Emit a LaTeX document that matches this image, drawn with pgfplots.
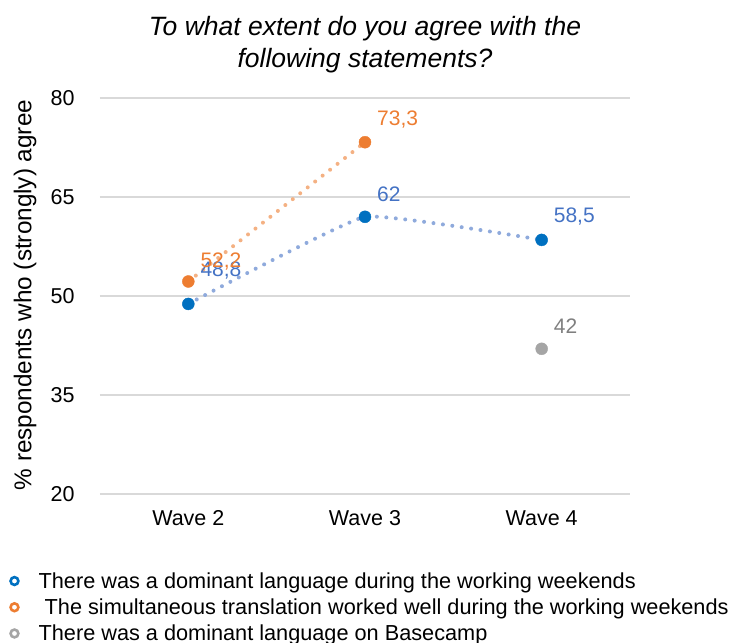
\documentclass[border=0pt]{standalone}
\usepackage{pgfplots}
\pgfplotsset{compat=1.18}
\usepackage{pgfplotstable}
\usepackage{fontspec}
\setmainfont{Liberation Sans}
\definecolor{bmark}{RGB}{0,112,192}
\definecolor{bline}{RGB}{143,170,220}
\definecolor{blab}{RGB}{68,114,196}
\definecolor{omark}{RGB}{237,125,49}
\definecolor{oline}{RGB}{244,177,131}
\definecolor{gmark}{RGB}{165,165,165}
\definecolor{glab}{RGB}{127,127,127}
\definecolor{gridgray}{RGB}{217,217,217}
\pgfplotstableread{
x y lab dy
0 48.8 48,8 33
1 62 62 23
2 58.5 58,5 23
}\blueT
\pgfplotstableread{
x y lab dy
0 52.2 52,2 20
1 73.3 73,3 23
}\orangeT
\pgfplotstableread{
x y lab dy
2 42 42 23
}\grayT
\begin{document}
\begin{tikzpicture}
\useasboundingbox (-100bp,-149bp) rectangle (631bp,494bp);
\begin{axis}[
  at={(0,0)}, anchor=south west,
  scale only axis, width=530bp, height=396bp,
  xmin=-0.5, xmax=2.5, ymin=20, ymax=80,
  ytick={20,35,50,65,80},
  xtick={0,1,2}, xticklabels={Wave 2,Wave 3,Wave 4},
  axis line style={draw=none},
  major tick length=0pt,
  ymajorgrids, grid style={gridgray, line width=1.5bp},
  clip=false,
  /pgf/number format/assume math mode=true,
  ticklabel style={font=\fontsize{21.5bp}{24bp}\selectfont},
  yticklabel style={xshift=-22bp},
  xticklabel style={yshift=-13bp},
  title={To what extent do you agree with the\\following statements?},
  title style={font=\fontsize{26.5bp}{32bp}\selectfont\itshape, align=center, at={(axis description cs:0.5,1.12)}, anchor=center},
  ylabel={\% respondents who (strongly) agree},
  ylabel style={font=\fontsize{24.3bp}{26bp}\selectfont, at={(axis description cs:-0.1415,0.5025)}, anchor=center},
  legend style={at={(axis description cs:-0.181,-0.195)}, anchor=north west, draw=none, fill=none,
    font=\fontsize{21.7bp}{24bp}\selectfont, row sep=7bp, inner sep=0pt, nodes={inner sep=1bp}},
  legend cell align=left,
]
\addlegendimage{legend image code/.code={\path (0bp,0bp) (33bp,0bp); \draw[bmark, line width=2.6bp] (10bp,0bp) circle (3.9bp);}}
\addlegendentry{There was a dominant language during the working weekends}
\addlegendimage{legend image code/.code={\path (0bp,0bp) (33bp,0bp); \draw[omark, line width=2.6bp] (10bp,0bp) circle (3.9bp);}}
\addlegendentry{\ The simultaneous translation worked well during the working weekends}
\addlegendimage{legend image code/.code={\path (0bp,0bp) (33bp,0bp); \draw[gmark, line width=2.6bp] (10bp,0bp) circle (3.9bp);}}
\addlegendentry{There was a dominant language on Basecamp}
% lines
\addplot[forget plot, bline, line width=4bp, line cap=round, dash pattern=on 0pt off 9.5bp, smooth, tension=0.2] table[x=x,y=y] {\blueT};
\addplot[forget plot, oline, line width=4bp, line cap=round, dash pattern=on 0pt off 9.5bp] table[x=x,y=y] {\orangeT};
% markers + labels
\addplot[forget plot, only marks, mark=*, mark size=6bp, bmark,
  point meta=explicit symbolic, nodes near coords,
  visualization depends on={\thisrow{dy} \as \dy},
  nodes near coords style={blab, anchor=west, inner sep=0pt, xshift=12bp, yshift=\dy bp, font=\fontsize{21bp}{24bp}\selectfont}]
  table[x=x,y=y,meta=lab] {\blueT};
\addplot[forget plot, only marks, mark=*, mark size=6bp, omark,
  point meta=explicit symbolic, nodes near coords,
  visualization depends on={\thisrow{dy} \as \dy},
  nodes near coords style={omark, anchor=west, inner sep=0pt, xshift=12bp, yshift=\dy bp, font=\fontsize{21bp}{24bp}\selectfont}]
  table[x=x,y=y,meta=lab] {\orangeT};
\addplot[forget plot, only marks, mark=*, mark size=6bp, gmark,
  point meta=explicit symbolic, nodes near coords,
  visualization depends on={\thisrow{dy} \as \dy},
  nodes near coords style={glab, anchor=west, inner sep=0pt, xshift=12bp, yshift=\dy bp, font=\fontsize{21bp}{24bp}\selectfont}]
  table[x=x,y=y,meta=lab] {\grayT};
\end{axis}
\end{tikzpicture}
\end{document}
